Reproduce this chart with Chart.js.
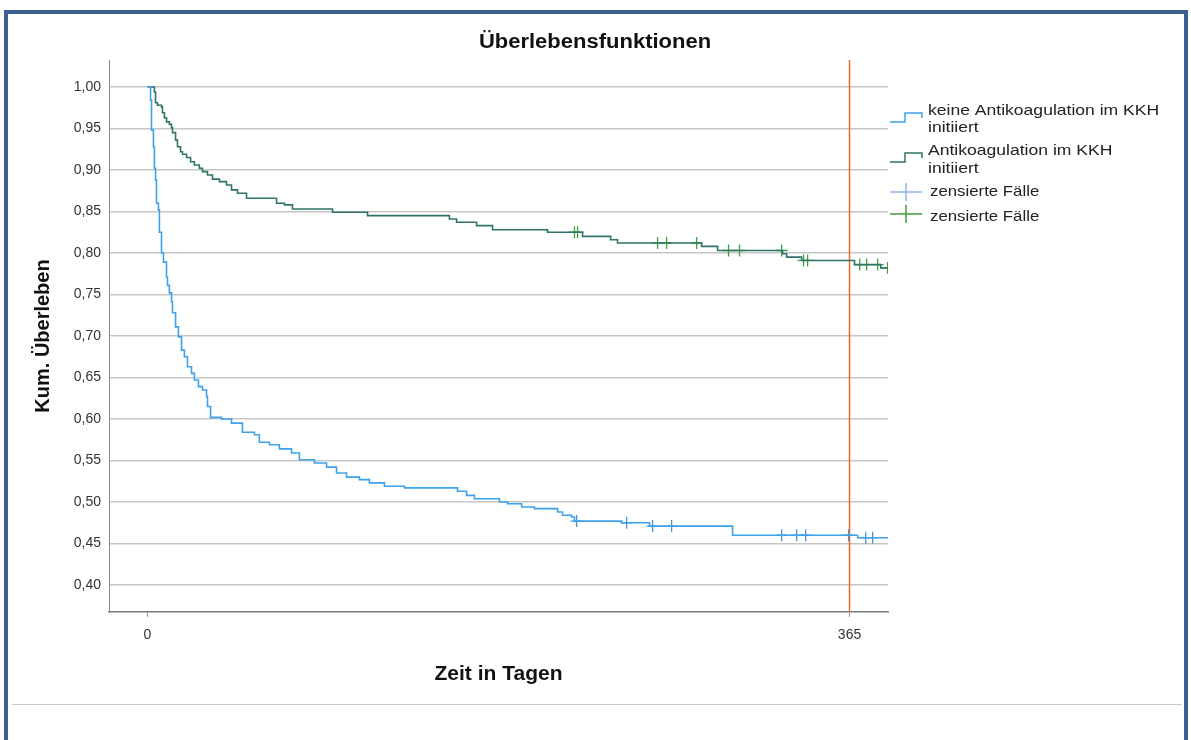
<!DOCTYPE html>
<html>
<head>
<meta charset="utf-8">
<script src="https://cdn.jsdelivr.net/npm/chart.js@4.4.1/dist/chart.umd.min.js"></script>
<style>
body { margin: 0; background: #fff; }
#frame { position: absolute; left: 4px; top: 10px; width: 1176px; height: 740px; border: 4px solid #3b5f8f; border-bottom: none; }
#rule { position: absolute; left: 12px; top: 704px; width: 1170px; height: 1px; background: #c8c8c8; }
#wrap { position: absolute; left: 0; top: 0; width: 1191px; height: 740px; }
</style>
</head>
<body>
<div id="frame"></div>
<div id="rule"></div>
<div id="wrap"><canvas id="canvas1" width="1191" height="740"></canvas></div>
<script>
// Kaplan-Meier: Zeit (Tage) und kumulatives Ueberleben nach jedem Ereignis
var noAcTimes = [0, 1.6, 2.1, 3.1, 3.6, 4.2, 4.7, 5.7, 6.2, 7.3, 8.3, 9.9, 10.4, 11.4, 12.5, 13.0,
    14.6, 16.1, 17.7, 19.2, 20.8, 22.9, 24.4, 26.5, 28.6, 30.7, 31.2, 32.8, 38.5, 43.7, 49.4, 55.6,
    58.2, 63.4, 68.6, 74.9, 79.0, 86.8, 93.1, 98.3, 103.5, 110.2, 115.4, 123.2, 133.6, 161.2, 165.9,
    170.0, 183.0, 187.2, 194.5, 201.2, 213.2, 215.8, 220.5, 222.0, 246.5, 261.0, 304.2, 369.2, 385.0];
var noAcSurv = [1.000, 0.984, 0.948, 0.928, 0.902, 0.888, 0.860, 0.852, 0.825, 0.800, 0.789, 0.771, 0.761, 0.752, 0.741, 0.728,
    0.711, 0.699, 0.683, 0.675, 0.663, 0.655, 0.647, 0.639, 0.635, 0.627, 0.615, 0.602, 0.600, 0.595, 0.584, 0.581,
    0.572, 0.569, 0.564, 0.559, 0.551, 0.547, 0.542, 0.535, 0.530, 0.527, 0.523, 0.519, 0.517, 0.513, 0.508,
    0.504, 0.500, 0.498, 0.494, 0.492, 0.488, 0.484, 0.482, 0.477, 0.475, 0.471, 0.460, 0.457, 0.457];
var noAcCensored = [223.1, 249.1, 262.6, 272.5, 329.7, 337.5, 342.2, 364.5, 373.4, 377.0];

var acTimes = [0, 3.6, 4.2, 5.2, 7.3, 7.8, 8.8, 9.9, 11.4, 12.5, 13.0, 14.6, 15.6, 17.2, 18.2, 20.3,
    22.4, 24.4, 27.0, 28.6, 31.2, 33.8, 37.4, 41.1, 43.7, 46.8, 51.5, 67.1, 71.2, 75.4, 96.2, 114.4,
    157.0, 160.7, 171.1, 179.4, 208.0, 226.2, 240.8, 244.4, 288.1, 296.4, 330.2, 332.3, 340.1, 367.6, 381.2, 385.0];
var acSurv = [1.000, 0.994, 0.981, 0.978, 0.976, 0.969, 0.963, 0.958, 0.955, 0.951, 0.945, 0.936, 0.928, 0.922, 0.919, 0.915,
    0.910, 0.906, 0.902, 0.898, 0.894, 0.889, 0.886, 0.882, 0.876, 0.872, 0.866, 0.860, 0.858, 0.853, 0.849, 0.845,
    0.841, 0.837, 0.833, 0.828, 0.825, 0.820, 0.816, 0.812, 0.808, 0.803, 0.799, 0.795, 0.791, 0.786, 0.782, 0.782];
var acCensored = [222.0, 223.6, 265.2, 269.9, 285.5, 302.1, 307.8, 329.7, 341.1, 343.2, 370.3, 373.9, 379.6, 384.8];

var xTicks = [0, 365];
var yTicks = [0.40, 0.45, 0.50, 0.55, 0.60, 0.65, 0.70, 0.75, 0.80, 0.85, 0.90, 0.95, 1.00];
var markerDay = 365;
var xMin = -20, xMax = 385, yMin = 0.3675, yMax = 1.0325;

var legendLabels = [["keine Antikoagulation im KKH", "initiiert"], ["Antikoagulation im KKH", "initiiert"],
    ["zensierte Fälle"], ["zensierte Fälle"]];

var fontFam = '"Liberation Sans", Arial, sans-serif';

function toPoints(times, surv) {
    return times.map(function(t, i) { return {x: t, y: surv[i]}; });
}
// Wert der Treppenfunktion zum Zeitpunkt einer Zensierung
function censorPoints(censored, times, surv) {
    return censored.map(function(t) {
        var s = surv[0];
        for (var i = 0; i < times.length; i++) { if (times[i] <= t) s = surv[i]; }
        return {x: t, y: s};
    });
}

var blue = "#3ca3ea", teal = "#2e7468", blueCens = "#4a8fd8", greenCens = "#3f9e3f";

var legendPlugin = {
    id: 'kmLegend',
    afterDraw: function(chart) {
        var ctx = chart.ctx;
        ctx.save();
        function stretched(text, x, y, sx) {
            ctx.save(); ctx.translate(x, y); ctx.scale(sx, 1); ctx.fillText(text, 0, 0); ctx.restore();
        }
        // Titel
        ctx.fillStyle = "#111";
        ctx.textBaseline = "middle";
        ctx.textAlign = "center";
        ctx.font = "bold 20px " + fontFam;
        stretched("Überlebensfunktionen", 595, 42, 1.1);

        ctx.textAlign = "left";
        ctx.font = "15px " + fontFam;
        ctx.fillStyle = "#222";
        function stepIcon(y, color) {
            ctx.strokeStyle = color; ctx.lineWidth = 1.5;
            ctx.beginPath();
            ctx.moveTo(890, y + 10); ctx.lineTo(905, y + 10); ctx.lineTo(905, y + 1);
            ctx.lineTo(922, y + 1); ctx.lineTo(922, y + 6);
            ctx.stroke();
        }
        function crossIcon(y, color) {
            ctx.strokeStyle = color; ctx.lineWidth = 1.5;
            ctx.beginPath();
            ctx.moveTo(890, y); ctx.lineTo(922, y);
            ctx.moveTo(906, y - 9); ctx.lineTo(906, y + 9);
            ctx.stroke();
        }
        stepIcon(112, blue);
        stretched(legendLabels[0][0], 928, 111, 1.17);
        stretched(legendLabels[0][1], 928, 128, 1.17);
        stepIcon(152, teal);
        stretched(legendLabels[1][0], 928, 151, 1.17);
        stretched(legendLabels[1][1], 928, 169, 1.17);
        crossIcon(192, "#8fb8ea");
        stretched(legendLabels[2][0], 930, 192, 1.12);
        crossIcon(214, greenCens);
        stretched(legendLabels[3][0], 930, 217, 1.12);
        ctx.restore();
    }
};

new Chart(document.getElementById("canvas1"), {
    type: 'line',
    data: {
        datasets: [
            { data: toPoints(noAcTimes, noAcSurv), borderColor: blue, borderWidth: 1.6, stepped: true, pointRadius: 0 },
            { data: toPoints(acTimes, acSurv), borderColor: teal, borderWidth: 1.6, stepped: true, pointRadius: 0 },
            { data: censorPoints(noAcCensored, noAcTimes, noAcSurv), showLine: false, pointStyle: 'cross',
              pointRadius: 6, borderColor: blueCens, borderWidth: 1.3 },
            { data: censorPoints(acCensored, acTimes, acSurv), showLine: false, pointStyle: 'cross',
              pointRadius: 6, borderColor: greenCens, borderWidth: 1.3 },
            { data: [{x: markerDay, y: yMin}, {x: markerDay, y: yMax}], borderColor: "#ef6a25", borderWidth: 1.5,
              pointRadius: 0 }
        ]
    },
    options: {
        responsive: false,
        animation: false,
        layout: { padding: { left: 0, right: 303, top: 60, bottom: 0 } },
        plugins: { legend: { display: false }, tooltip: { enabled: false }, title: { display: false } },
        scales: {
            x: {
                type: 'linear', min: xMin, max: xMax,
                afterFit: function(s) { s.height = 128; },
                afterBuildTicks: function(s) { s.ticks = xTicks.map(function(v) { return {value: v}; }); },
                border: { display: true, color: "#7a7a7a", width: 1.5 },
                grid: { drawOnChartArea: false, drawTicks: true, tickLength: 5, color: "#9a9a9a" },
                ticks: { color: "#333", font: { family: fontFam, size: 14 }, padding: 10, maxRotation: 0 },
                title: { display: true, text: "Zeit in Tagen", color: "#111",
                         font: { family: fontFam, size: 21, weight: 'bold' }, padding: { top: 0, bottom: 53 } }
            },
            y: {
                min: yMin, max: yMax,
                afterFit: function(s) { s.width = 109; },
                afterBuildTicks: function(s) { s.ticks = yTicks.map(function(v) { return {value: v}; }); },
                border: { display: true, color: "#8a8a8a", width: 1 },
                grid: { color: "#c6c6c6", lineWidth: 1.5, drawTicks: false },
                ticks: { color: "#333", font: { family: fontFam, size: 14 }, padding: 8,
                         callback: function(v) { return v.toFixed(2).replace('.', ','); } },
                title: { display: true, text: "Kum. Überleben", color: "#111",
                         font: { family: fontFam, size: 20, weight: 'bold' }, padding: { top: 31, bottom: 0 } }
            }
        }
    },
    plugins: [legendPlugin]
});
</script>
</body>
</html>
